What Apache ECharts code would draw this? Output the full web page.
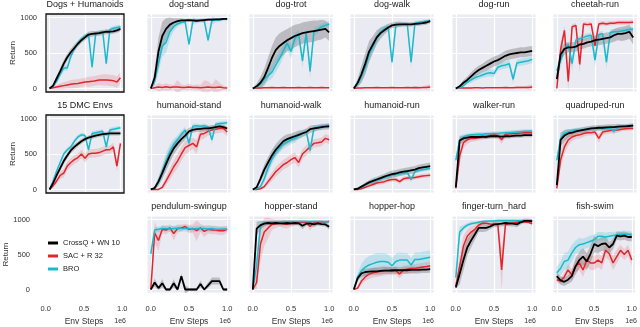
<!DOCTYPE html>
<html lang="en">
<head>
<meta charset="UTF-8">
<title>Return vs Env Steps</title>
<script src="https://cdn.jsdelivr.net/npm/echarts@6/dist/echarts.min.js"></script>
<style>html,body{margin:0;padding:0;background:#fff}</style>
</head>
<body>
<div id="main" style="width:640px;height:327px"></div>
<script>
// env steps (x, in units of 1e6)
let steps = [0, 0.05, 0.1, 0.15, 0.2, 0.25, 0.3, 0.35, 0.4, 0.45, 0.5, 0.55, 0.6, 0.65, 0.7, 0.75, 0.8, 0.85, 0.9, 0.95, 1.0];
let xTicks = [0, 0.5, 1];
let yTicks = [0, 500, 1000];
let titles = ['Dogs + Humanoids', 'dog-stand', 'dog-trot', 'dog-walk', 'dog-run', 'cheetah-run',
    '15 DMC Envs', 'humanoid-stand', 'humanoid-walk', 'humanoid-run', 'walker-run', 'quadruped-run',
    'pendulum-swingup', 'hopper-stand', 'hopper-hop', 'finger-turn_hard', 'fish-swim'];
let methods = ['CrossQ + WN 10', 'SAC + R 32', 'BRO'];

// CrossQ + WN 10 (black)
let crossq = [
    [0,40,140,240,350,440,510,570,630,680,720,760,770,775,780,790,800,800,805,820,840],
    [0,150,520,740,840,900,930,950,960,960,965,960,955,960,965,970,970,975,975,980,980],
    [0,30,80,160,290,430,540,600,640,680,710,740,760,780,790,800,810,820,830,840,790],
    [0,80,200,350,520,620,720,780,820,860,890,900,905,905,905,905,910,915,920,930,950],
    [0,30,80,120,170,220,260,290,320,350,380,400,430,460,480,490,500,510,510,520,530],
    [130,480,560,580,580,590,620,630,650,660,680,690,700,710,720,750,770,770,780,800,720],
    [0,90,200,300,400,480,550,600,640,680,710,730,745,760,770,780,785,790,790,790,790],
    [0,20,110,230,360,480,580,650,710,760,820,840,850,855,860,860,870,880,890,880,860],
    [0,30,150,280,380,480,560,620,680,710,730,750,770,790,810,850,860,870,880,885,890],
    [0,10,40,70,100,120,140,160,180,200,215,225,240,250,260,270,280,300,310,320,330],
    [30,690,720,730,740,740,740,745,740,750,750,750,745,750,750,755,760,760,765,765,765],
    [60,700,760,790,800,820,830,840,850,860,865,870,870,875,880,880,885,890,890,895,900],
    [0,100,20,90,0,0,90,0,190,0,0,0,0,80,0,60,120,120,120,0,0],
    [0,870,920,940,950,945,950,945,945,950,945,950,945,910,940,945,930,945,935,930,895],
    [0,160,230,250,255,260,260,265,270,270,275,275,275,275,275,280,280,280,285,285,290],
    [30,220,420,600,700,790,880,880,880,900,930,935,940,950,945,940,930,960,980,980,975],
    [190,130,110,140,190,330,420,470,400,510,650,620,650,660,600,650,770,760,770,750,750]
];
let crossqSpread = [
    [0,20,40,50,50,50,50,50,40,40,40,40,40,35,35,35,35,35,35,35,35],
    [0,100,200,200,150,100,60,40,30,20,20,20,20,20,20,20,20,20,20,15,15],
    [0,40,80,120,150,170,180,180,170,160,160,160,150,150,150,150,150,140,140,120,120],
    [0,60,120,150,150,120,100,80,60,50,40,40,40,30,30,30,30,30,30,30,30],
    [0,20,40,50,60,60,60,60,70,70,70,70,70,70,70,70,70,70,70,70,70],
    [80,100,80,70,70,70,70,70,70,70,70,80,80,80,80,90,90,100,100,100,100],
    [0,20,30,40,40,40,40,40,35,35,30,30,30,30,30,30,30,30,30,30,30],
    [0,20,60,80,100,100,90,80,70,60,50,40,40,40,40,40,40,30,30,30,30],
    [0,20,50,70,80,80,80,80,70,70,60,60,60,50,50,50,50,40,40,40,40],
    [0,10,20,30,30,40,40,40,40,50,50,50,50,50,50,50,50,50,50,50,50],
    [20,60,40,40,30,30,30,30,30,30,30,30,30,30,30,30,30,30,30,30,30],
    [40,100,80,60,50,40,40,40,40,40,40,40,40,40,40,40,40,30,30,30,30],
    [0,60,30,60,20,20,60,20,40,60,20,20,20,50,20,40,50,50,50,20,20],
    [0,100,60,40,30,30,30,30,30,30,30,30,30,50,30,30,40,30,30,30,40],
    [0,40,50,50,50,50,50,50,50,50,50,50,50,50,50,50,50,50,50,50,50],
    [20,150,150,120,100,80,60,60,50,40,40,40,40,40,40,40,40,30,30,30,30],
    [60,60,60,60,80,120,120,120,120,120,120,100,100,100,80,80,60,60,60,60,60]
];

// SAC + R 32 (red)
let sac = [
    [0,10,20,30,40,50,60,65,70,80,90,95,100,110,120,120,120,115,110,90,150],
    [0,10,20,15,25,15,20,20,15,15,20,15,15,10,15,20,15,15,20,10,5],
    [0,5,8,10,10,12,10,10,12,10,10,10,12,10,10,12,10,10,12,10,10],
    [0,5,8,10,10,10,12,10,10,10,12,10,10,10,12,10,12,10,12,15,20],
    [0,5,5,8,8,10,10,8,10,10,10,10,10,12,10,10,12,12,15,15,20],
    [0,550,820,100,870,890,340,910,900,910,600,910,920,910,920,920,930,930,930,930,935],
    [0,50,120,200,230,330,380,420,450,500,440,500,510,510,520,540,560,560,600,330,650],
    [0,0,0,30,120,220,320,400,500,590,620,650,600,780,790,820,840,850,860,860,810],
    [0,0,10,40,110,180,250,300,350,380,420,450,380,500,550,600,650,660,670,720,700],
    [0,0,10,30,50,70,90,100,110,130,140,140,110,150,160,160,170,180,190,195,200],
    [15,470,660,700,720,720,730,740,750,765,770,760,700,780,785,790,790,795,800,800,800],
    [15,420,600,700,740,760,770,790,800,800,810,720,810,820,830,835,840,850,855,860,860],
    [0,810,700,860,850,880,800,870,880,900,860,870,840,880,830,860,850,850,840,840,860],
    [0,100,650,820,880,930,940,950,940,930,945,950,960,965,960,900,955,960,965,965,970],
    [0,20,120,180,220,240,250,260,270,270,260,270,220,280,290,300,300,310,320,330,340],
    [50,330,620,760,820,860,920,950,945,935,930,930,280,930,940,950,960,970,965,960,940],
    [140,120,180,280,210,330,380,280,420,380,380,420,380,560,510,380,470,560,500,560,420]
];
let sacSpread = [
    [0,20,30,40,50,50,60,60,60,60,60,70,70,70,70,80,80,80,80,80,80],
    [0,20,60,40,50,40,30,100,40,30,50,30,40,40,100,80,40,120,60,30,20],
    [0,10,10,10,10,10,10,10,10,10,10,10,10,10,10,10,10,10,10,10,10],
    [0,10,10,10,10,10,10,10,10,10,10,10,10,10,10,15,20,20,20,30,40],
    [0,5,5,5,5,5,5,5,5,5,5,5,5,10,10,10,20,20,20,30,40],
    [0,100,60,150,40,30,120,30,30,30,100,30,30,30,30,30,30,30,30,30,30],
    [0,20,40,50,60,60,60,60,60,60,60,60,60,60,60,60,60,60,60,80,60],
    [0,0,0,30,60,80,90,100,100,100,90,80,100,80,70,60,60,60,60,60,60],
    [0,0,10,30,50,60,70,70,70,70,70,70,70,70,70,70,60,60,60,60,60],
    [0,0,10,20,20,30,30,30,30,30,30,30,30,30,30,30,30,30,30,30,30],
    [10,120,80,60,50,40,40,40,40,40,40,40,60,40,40,40,40,40,40,40,40],
    [10,120,100,80,60,50,50,50,40,40,40,60,40,40,40,40,40,30,30,30,30],
    [0,150,150,60,60,50,100,60,50,40,60,60,150,60,80,60,60,60,60,60,50],
    [0,100,250,200,150,80,60,50,60,60,50,40,30,30,30,60,30,30,30,30,20],
    [0,20,50,60,70,70,70,70,70,60,60,60,60,60,60,60,60,60,60,60,60],
    [30,150,150,100,80,60,40,30,30,30,30,30,300,30,30,20,20,20,20,20,20],
    [40,40,60,80,80,80,100,100,100,100,100,100,100,100,100,100,100,80,80,80,80]
];

// BRO (cyan)
let bro = [
    [0,30,100,200,290,290,450,560,640,700,740,760,300,770,790,800,350,830,850,860,870],
    [0,100,350,600,650,800,870,910,930,940,620,950,950,960,955,680,960,965,970,975,975],
    [0,20,60,130,180,230,330,420,530,640,520,700,770,390,780,240,800,830,870,890,910],
    [0,60,170,300,480,590,700,800,840,870,370,890,900,910,910,370,920,930,940,950,955],
    [0,10,40,90,120,150,170,190,210,220,210,300,320,330,350,130,360,370,380,390,410],
    [250,400,560,620,350,680,700,720,740,750,400,760,770,370,790,800,800,810,820,830,840],
    [0,120,260,380,500,560,600,680,740,770,760,560,790,800,810,820,600,840,850,860,870],
    [0,20,110,250,400,530,630,700,780,840,650,890,900,890,900,880,700,920,930,935,940],
    [0,10,40,150,300,430,530,590,640,670,700,720,760,790,820,550,860,880,890,900,905],
    [0,10,30,60,90,110,130,150,170,185,200,210,220,230,240,140,250,270,280,290,300],
    [410,700,740,760,770,775,780,780,785,785,790,790,795,800,800,805,810,815,820,820,825],
    [410,720,790,810,830,840,840,845,850,855,855,860,860,860,865,820,875,880,890,895,905],
    [510,850,860,870,870,865,870,875,870,870,870,865,870,870,870,865,870,860,860,865,860],
    [0,350,900,950,960,965,965,965,970,970,970,970,970,970,970,970,970,970,970,965,970],
    [0,180,270,320,350,370,390,400,400,390,340,400,420,420,420,350,430,430,440,450,460],
    [170,820,880,920,940,950,960,970,975,980,980,985,985,985,985,985,985,985,985,985,985],
    [240,300,400,420,520,600,640,650,670,690,710,760,760,750,760,770,780,790,790,790,780]
];
let broSpread = [
    [0,20,30,40,40,40,40,40,40,30,30,30,40,30,30,30,40,30,30,30,30],
    [0,60,120,150,150,100,60,40,30,30,40,60,30,30,30,40,60,30,30,20,20],
    [0,20,40,60,80,90,100,100,90,80,100,80,60,100,60,100,60,50,40,40,40],
    [0,40,80,100,100,80,70,60,50,40,80,40,30,30,30,80,30,30,30,20,20],
    [0,10,20,30,40,40,40,40,50,50,50,50,50,50,50,60,50,50,50,50,50],
    [80,100,60,40,100,40,40,40,40,40,100,40,40,100,40,40,40,30,30,30,30],
    [0,20,30,30,30,30,30,30,30,30,30,40,30,30,30,30,40,30,30,30,30],
    [0,20,60,100,120,100,80,60,50,40,80,40,30,30,30,30,60,30,30,30,30],
    [0,10,30,60,80,80,80,70,70,60,60,60,50,50,40,80,40,40,40,30,30],
    [0,10,20,20,30,30,30,30,30,30,30,30,30,30,30,40,30,30,30,30,30],
    [60,60,40,30,30,30,30,30,30,30,30,30,30,30,30,30,30,30,30,30,30],
    [80,80,50,40,30,30,30,30,30,30,30,30,30,30,30,50,30,30,30,30,30],
    [100,40,40,40,40,40,40,40,40,40,40,40,40,40,40,40,40,40,40,40,40],
    [0,200,60,30,20,20,20,20,20,20,20,20,20,20,20,20,20,20,20,20,20],
    [0,60,100,120,130,130,130,120,120,110,110,110,110,100,100,100,100,100,100,100,100],
    [100,80,40,30,30,20,20,20,20,20,20,20,20,20,20,20,20,20,20,20,20],
    [80,100,120,120,120,100,100,80,80,80,80,60,60,60,60,50,50,50,50,50,50]
];

let lineColors = ['#000000', '#e0262c', '#1cb9cd'];
let bandColors = ['rgba(0,0,0,0.2)', 'rgba(224,38,44,0.16)', 'rgba(28,185,205,0.22)'];
let font = '"Liberation Sans", Arial, sans-serif';

let colLeft = [46, 147, 249, 350, 452, 553];
let rowTop = [14, 115, 216];
let panelH = 78;

function band(gi, vals, spread, color, z) {
    return {
        type: 'custom', xAxisIndex: gi, yAxisIndex: gi, silent: true, clip: true, z: z,
        data: [[0, 0]],
        renderItem: function (params, api) {
            let up = [], lo = [];
            for (let k = 0; k < steps.length; k++) {
                up.push(api.coord([steps[k], vals[k] + spread[k]]));
                lo.push(api.coord([steps[k], vals[k] - spread[k]]));
            }
            return {type: 'polygon', shape: {points: up.concat(lo.reverse())}, style: {fill: color}};
        }
    };
}

function line(gi, name, vals, color, width, z) {
    return {
        type: 'line', name: name, xAxisIndex: gi, yAxisIndex: gi, silent: true, z: z,
        showSymbol: false, clip: true,
        data: steps.map((x, k) => [x, vals[k]]),
        lineStyle: {color: color, width: width}, itemStyle: {color: color}
    };
}

let grids = [], xAxes = [], yAxes = [], series = [], titleList = [], graphics = [];

function addAxes(gi, row, col, left, width, bg, labelMargin) {
    grids.push({
        left: left, top: rowTop[row], width: width, height: panelH,
        show: bg, backgroundColor: '#EAEAF2', borderColor: '#fff', borderWidth: 1
    });
    xAxes.push({
        gridIndex: gi, type: 'value', min: -0.05, max: 1.05,
        axisLine: {show: false},
        axisTick: {show: false, customValues: xTicks},
        axisLabel: {show: row === 2, customValues: xTicks, formatter: v => v.toFixed(1),
            fontSize: 7.5, color: '#333', margin: 12, fontFamily: font},
        splitLine: {show: bg, lineStyle: {color: '#fff', width: 1.2}},
        name: row === 2 ? 'Env Steps' : '', nameLocation: 'middle', nameGap: 24,
        nameTextStyle: {fontSize: 8.5, color: '#333', fontFamily: font}
    });
    yAxes.push({
        gridIndex: gi, type: 'value', min: -50, max: 1050,
        axisLine: {show: false},
        axisTick: {show: false, customValues: yTicks},
        axisLabel: {show: col === 0, customValues: yTicks, formatter: v => String(v),
            fontSize: 7.5, color: '#333', margin: labelMargin, fontFamily: font},
        splitLine: {show: bg, lineStyle: {color: '#fff', width: 1.2}},
        name: col === 0 ? 'Return' : '', nameLocation: 'middle', nameGap: labelMargin + 19,
        nameTextStyle: {fontSize: 8, color: '#333', fontFamily: font}
    });
    if (row === 2) {
        graphics.push({
            type: 'text', x: left + width, y: 321,
            style: {text: '1e6', textAlign: 'right', textVerticalAlign: 'middle',
                fontSize: 7, fill: '#333', fontFamily: font}
        });
    }
    // black frame for the aggregate panels
    if (col === 0 && bg) {
        graphics.push({
            type: 'rect', z: 100, silent: true,
            shape: {x: left, y: rowTop[row], width: width, height: panelH},
            style: {fill: null, stroke: '#111', lineWidth: 1.3}
        });
    }
}

for (let i = 0; i < titles.length; i++) {
    let row = i < 6 ? 0 : (i < 12 ? 1 : 2);
    let col = i < 6 ? i : (i < 12 ? i - 6 : i - 11);
    let width = col === 0 ? 78 : 84;
    addAxes(i, row, col, colLeft[col], width, true, 9);
    titleList.push({
        text: titles[i], left: colLeft[col] + width / 2, textAlign: 'center',
        top: rowTop[row] - 14, padding: 0,
        textStyle: {fontSize: 9, fontWeight: 'normal', color: '#222', fontFamily: font}
    });
    let means = [crossq[i], sac[i], bro[i]];
    let spreads = [crossqSpread[i], sacSpread[i], broSpread[i]];
    for (let m = 0; m < 3; m++) {
        series.push(band(i, means[m], spreads[m], bandColors[m], 1));
    }
    // draw order: red, cyan, black on top
    series.push(line(i, methods[1], means[1], lineColors[1], 1.5, 3));
    series.push(line(i, methods[2], means[2], lineColors[2], 1.5, 4));
    series.push(line(i, methods[0], means[0], lineColors[0], 1.8, 5));
}

// legend panel (bottom-left), axes only
let legendGrid = titles.length;
addAxes(legendGrid, 2, 0, 42, 84, false, 12);
series.push({type: 'line', xAxisIndex: legendGrid, yAxisIndex: legendGrid, data: [], silent: true});

let myChart = echarts.init(document.getElementById('main'));
let option = {
    animation: false,
    backgroundColor: '#fff',
    title: titleList,
    grid: grids,
    xAxis: xAxes,
    yAxis: yAxes,
    legend: {
        data: methods, orient: 'vertical', left: 48, top: 239, padding: 0,
        icon: 'rect', itemWidth: 10, itemHeight: 3, itemGap: 5,
        textStyle: {fontSize: 7.5, color: '#222', fontFamily: font}
    },
    graphic: graphics,
    series: series
};
myChart.setOption(option);
</script>
</body>
</html>
